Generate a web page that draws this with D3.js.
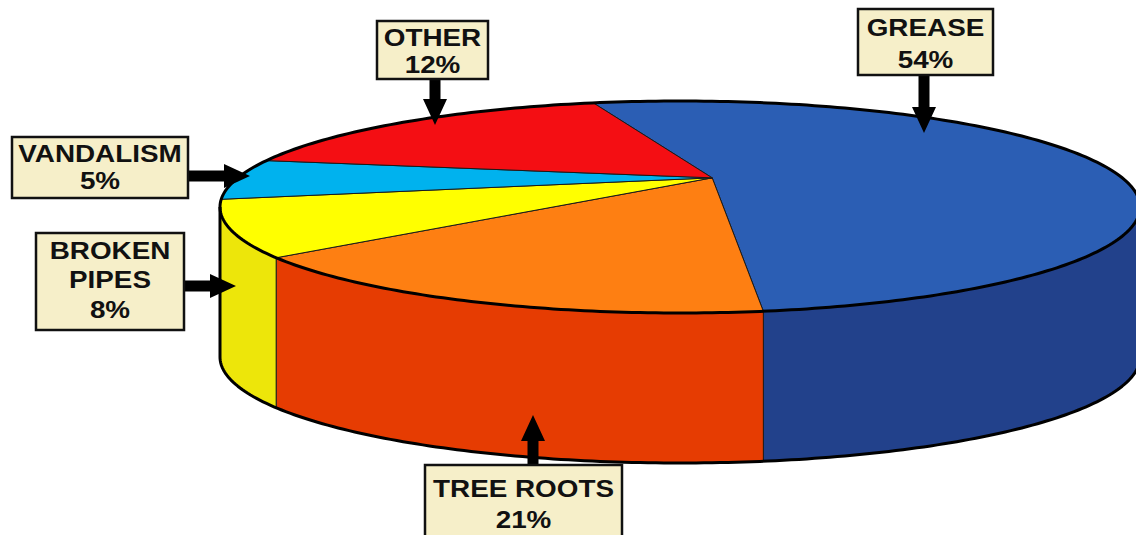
<!DOCTYPE html>
<html>
<head>
<meta charset="utf-8">
<script src="https://cdn.jsdelivr.net/npm/d3@7"></script>
<style>
  html, body { margin: 0; padding: 0; background: #ffffff; }
  svg { display: block; }
</style>
</head>
<body>
<svg id="chart" width="1136" height="535"></svg>
<script>
// Causes of sewer blockages, share of incidents (%)
const categories = ["GREASE", "TREE ROOTS", "BROKEN PIPES", "VANDALISM", "OTHER"];
const values = [54, 21, 8, 5, 12];
const topColors = ["#2B5EB4", "#FE7F12", "#FFFF00", "#00B2EE", "#F40E13"];
const sideColors = ["#22418B", "#E63C02", "#EDE60A", "#0090C8", "#C00A0E"];
const labelLines = [
  ["GREASE", "54%"],
  ["TREE ROOTS", "21%"],
  ["BROKEN", "PIPES", "8%"],
  ["VANDALISM", "5%"],
  ["OTHER", "12%"]
];

// Callout boxes and arrows (layout only)
const callouts = [
  { box: [858, 9, 993, 75],    baselines: [36, 68],        arrow: [[924, 75], [924, 133]] },
  { box: [425, 465, 622, 545], baselines: [497, 528],      arrow: [[533, 465], [533, 415]] },
  { box: [36, 233, 184, 330],  baselines: [259, 288, 318], arrow: [[184, 286], [236, 286]] },
  { box: [12, 137, 188, 198],  baselines: [162, 189],      arrow: [[188, 176], [250, 176]] },
  { box: [377, 21, 488, 79],   baselines: [46, 73],        arrow: [[435, 79], [435, 125]] }
];
const fontSize = 24, fontStretch = 1.16;

// Pie geometry: top ellipse, cylinder depth, rim distortion and hub position
const cx = 680, cy = 207, rx = 460, ry = 106, depth = 150;
const rimShift = [0.15, 0.15];   // projective distortion of the rim (unit-disc coords)
const hub = [0.07, -0.275];      // where the slice edges meet (unit-disc coords)
const startDeg = -17.2;

const svg = d3.select("#chart");
const xs = d3.scaleLinear().domain([-1, 1]).range([cx - rx, cx + rx]);
const ys = d3.scaleLinear().domain([-1, 1]).range([cy - ry, cy + ry]);

// Projective map of the unit disc onto itself that moves its centre to `shift`
function distort(u, v, shift) {
  const t = Math.hypot(shift[0], shift[1]);
  if (t === 0) return [u, v];
  const nx = shift[0] / t, ny = shift[1] / t;
  const g = 1 / Math.sqrt(1 - t * t);
  const un = u * nx + v * ny;
  const px = u - un * nx, py = v - un * ny;
  const un2 = g * (un + t);
  const w = g * (t * un + 1);
  return [(px + un2 * nx) / w, (py + un2 * ny) / w];
}
// d3 pie angle (0 at 12 o'clock, clockwise) -> point on the rim
const rimPoint = a => distort(Math.sin(a), -Math.cos(a), rimShift);
const toScreen = p => [xs(p[0]), ys(p[1])];

function samples(a0, a1) {
  const n = Math.max(2, Math.ceil((a1 - a0) / (Math.PI / 720)));
  return d3.range(n + 1).map(i => rimPoint(a0 + (a1 - a0) * i / n));
}

const data = categories.map((c, i) => ({ name: c, value: values[i], i }));
const start = startDeg * Math.PI / 180;
const arcs = d3.pie().sort(null).value(d => d.value)
  .startAngle(start).endAngle(start + 2 * Math.PI)(data);

const line = d3.line();
const apex = toScreen(hub);

// Front wall of the cylinder
const gSide = svg.append("g");
arcs.forEach(a => {
  const pts = samples(a.startAngle, a.endAngle).filter(p => p[1] >= -1e-9).map(toScreen);
  if (pts.length < 2) return;
  const poly = pts.concat(pts.slice().reverse().map(p => [p[0], p[1] + depth]));
  gSide.append("path")
    .attr("d", line(poly) + "Z")
    .attr("fill", sideColors[a.data.i])
    .attr("stroke", "#1a1a1a")
    .attr("stroke-width", 1)
    .attr("stroke-linejoin", "round");
});

// Top face slices
const gTop = svg.append("g");
arcs.forEach(a => {
  const pts = [apex].concat(samples(a.startAngle, a.endAngle).map(toScreen));
  gTop.append("path")
    .attr("d", line(pts) + "Z")
    .attr("fill", topColors[a.data.i])
    .attr("stroke", "#1a1a1a")
    .attr("stroke-width", 1)
    .attr("stroke-linejoin", "round");
});

// Heavy outline: top rim, wall edges and bottom rim
const rimPts = d3.range(0, 361).map(d => [xs(Math.cos(d * Math.PI / 180)), ys(Math.sin(d * Math.PI / 180))]);
svg.append("path")
  .attr("d", line(rimPts) + "Z")
  .attr("fill", "none").attr("stroke", "#000").attr("stroke-width", 3);
const bottomPts = d3.range(0, 181).map(d => [xs(Math.cos(d * Math.PI / 180)), ys(Math.sin(d * Math.PI / 180)) + depth]);
svg.append("path")
  .attr("d", line([[xs(1), ys(0)]].concat(bottomPts, [[xs(-1), ys(0)]])))
  .attr("fill", "none").attr("stroke", "#000").attr("stroke-width", 3)
  .attr("stroke-linejoin", "round");

// Arrow shape from (x0,y0) to tip (x1,y1)
function arrowPath(p0, p1) {
  const dx = p1[0] - p0[0], dy = p1[1] - p0[1];
  const L = Math.hypot(dx, dy), ux = dx / L, uy = dy / L, nx = -uy, ny = ux;
  const sw = 5.5, hw = 12, hl = 26;
  const b = [p1[0] - ux * hl, p1[1] - uy * hl];
  return line([
    [p0[0] + nx * sw, p0[1] + ny * sw],
    [b[0] + nx * sw, b[1] + ny * sw],
    [b[0] + nx * hw, b[1] + ny * hw],
    p1,
    [b[0] - nx * hw, b[1] - ny * hw],
    [b[0] - nx * sw, b[1] - ny * sw],
    [p0[0] - nx * sw, p0[1] - ny * sw]
  ]) + "Z";
}

// Callouts
const gLab = svg.append("g");
callouts.forEach((c, i) => {
  gLab.append("path").attr("d", arrowPath(c.arrow[0], c.arrow[1])).attr("fill", "#000");
  const [x0, y0, x1, y1] = c.box;
  gLab.append("rect")
    .attr("x", x0).attr("y", y0).attr("width", x1 - x0).attr("height", y1 - y0)
    .attr("fill", "#F6EFC9").attr("stroke", "#111").attr("stroke-width", 2.5);
  const txt = gLab.append("text")
    .attr("transform", `translate(${(x0 + x1) / 2},0) scale(${fontStretch},1)`)
    .attr("text-anchor", "middle")
    .attr("font-family", "'Liberation Sans', Arial, sans-serif")
    .attr("font-weight", "bold").attr("font-size", fontSize)
    .attr("fill", "#111");
  labelLines[i].forEach((t, k) => {
    txt.append("tspan")
      .attr("x", 0).attr("y", c.baselines[k])
      .text(t);
  });
});
</script>
</body>
</html>
